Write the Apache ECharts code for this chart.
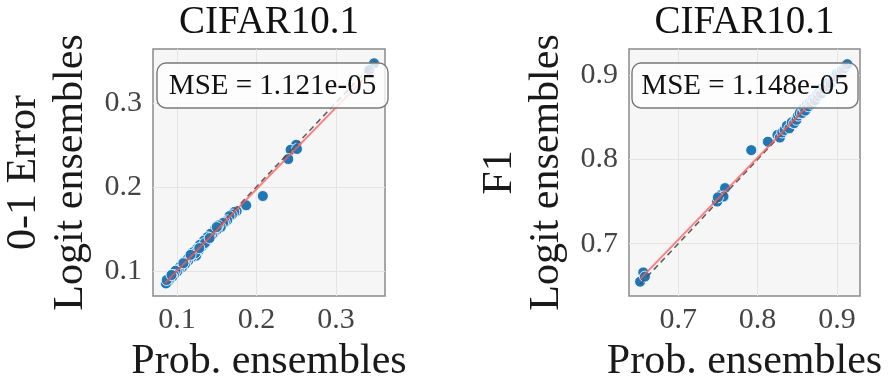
<!DOCTYPE html>
<html>
<head>
<meta charset="utf-8">
<script src="https://cdn.jsdelivr.net/npm/echarts@6/dist/echarts.min.js"></script>
<style>html,body{margin:0;padding:0;background:#fff;}#c{width:891px;height:378px;}</style>
</head>
<body>
<div id="c"></div>
<script>
// ---- data ----
const titles = ['CIFAR10.1', 'CIFAR10.1'];
const yNames = ['0-1 Error\nLogit ensembles', 'F1\nLogit ensembles'];
const xName = 'Prob. ensembles';
const mseTexts = ['MSE = 1.121e-05', 'MSE = 1.148e-05'];
const ticksLeft = [0.1, 0.2, 0.3];
const ticksRight = [0.7, 0.8, 0.9];
const rangeLeftX = [0.0697, 0.3618];
const rangeLeftY = [0.070, 0.364];
const rangeRightX = [0.638, 0.929];
const rangeRightY = [0.638, 0.931];

const pointsLeft = [
  [0.348,0.347],[0.342,0.339],
  [0.250,0.250],[0.243,0.244],[0.251,0.245],[0.240,0.233],
  [0.208,0.189],[0.187,0.178],
  [0.175,0.171],[0.172,0.170],[0.169,0.167],[0.166,0.165],[0.163,0.160],[0.160,0.158],
  [0.158,0.157],[0.155,0.152],[0.152,0.154],[0.150,0.149],[0.148,0.150],[0.146,0.145],
  [0.144,0.143],[0.142,0.144],[0.140,0.138],[0.138,0.140],[0.136,0.134],[0.134,0.136],
  [0.133,0.131],[0.131,0.129],[0.129,0.131],[0.127,0.124],[0.125,0.126],[0.124,0.118],
  [0.122,0.121],[0.120,0.122],[0.118,0.116],[0.116,0.117],[0.114,0.112],[0.112,0.113],
  [0.110,0.108],[0.108,0.110],[0.106,0.104],[0.104,0.105],[0.102,0.101],[0.100,0.099],
  [0.098,0.100],[0.096,0.095],[0.094,0.093],[0.092,0.094],[0.090,0.089],[0.088,0.087],
  [0.086,0.085],[0.087,0.089],[0.135,0.133],[0.150,0.152],[0.123,0.121],[0.108,0.109],
  [0.093,0.095],[0.141,0.139],[0.117,0.119],[0.128,0.127]
];
const regLeft = [[0.085,0.0855],[0.348,0.341]];
const idLeft = [[0.085,0.085],[0.350,0.350]];

const pointsRight = [
  [0.652,0.655],[0.656,0.666],[0.658,0.661],
  [0.749,0.750],[0.754,0.758],[0.759,0.766],[0.757,0.756],[0.750,0.755],
  [0.792,0.811],[0.813,0.821],
  [0.825,0.829],[0.828,0.826],[0.831,0.832],[0.834,0.835],[0.837,0.840],[0.840,0.837],
  [0.843,0.844],[0.846,0.843],[0.849,0.847],[0.851,0.852],[0.853,0.855],[0.856,0.855],
  [0.858,0.861],[0.860,0.858],[0.862,0.865],[0.864,0.863],[0.866,0.868],[0.868,0.866],
  [0.870,0.872],[0.872,0.870],[0.874,0.876],[0.876,0.875],[0.878,0.880],[0.880,0.878],
  [0.882,0.885],[0.884,0.883],[0.886,0.888],[0.888,0.887],[0.890,0.892],[0.892,0.890],
  [0.895,0.896],[0.898,0.898],[0.900,0.902],[0.903,0.902],[0.906,0.906],[0.909,0.908],
  [0.911,0.912],[0.913,0.913]
];
const regRight = [[0.652,0.658],[0.913,0.912]];
const idRight = [[0.652,0.652],[0.913,0.913]];

// ---- chart ----
const FONT = '"Liberation Serif", "DejaVu Serif", serif';
const TXT = '#1a1a1a';
const grids = [
  {left:153, top:49, width:232, height:247},
  {left:629, top:49, width:231, height:247}
];

function xAxisFor(i, range, ticks){
  return {
    type:'value', gridIndex:i, min:range[0], max:range[1],
    name:xName, nameLocation:'middle', nameGap:45, nameMoveOverlap:false,
    nameTextStyle:{fontFamily:FONT, fontSize:42, color:TXT},
    axisLine:{show:false}, 
    axisTick:{show:false, customValues:ticks},
    axisLabel:{customValues:ticks, fontFamily:FONT, fontSize:30, color:'#444', margin:9,
      formatter:v=>v.toFixed(1)},
    splitLine:{show:true, lineStyle:{color:'#e4e4e4', width:1}}
  };
}
function yAxisFor(i, range, ticks, name, gap){
  return {
    type:'value', gridIndex:i, min:range[0], max:range[1],
    name:name, nameLocation:'middle', nameGap:gap, nameRotate:90, nameMoveOverlap:false,
    nameTextStyle:{fontFamily:FONT, fontSize:42, color:TXT, lineHeight:47, align:'center'},
    axisLine:{show:false},
    axisTick:{show:false, customValues:ticks},
    axisLabel:{customValues:ticks, fontFamily:FONT, fontSize:30, color:'#444', margin:11,
      formatter:v=>v.toFixed(1)},
    splitLine:{show:true, lineStyle:{color:'#e4e4e4', width:1}}
  };
}

function scatterSeries(i, pts){
  return {type:'scatter', xAxisIndex:i, yAxisIndex:i, data:pts, symbolSize:11, z:3,
    itemStyle:{color:'#1f77b4', borderColor:'#ffffff', borderWidth:0.8, opacity:1}};
}
function lineSeries(i, pts, color, type, width, z){
  return {type:'line', xAxisIndex:i, yAxisIndex:i, data:pts, symbol:'none', z:z,
    lineStyle:{color:color, type:type, width:width}};
}

const graphic = [];
function addTitleAndBox(g, title, mse, boxX, boxW){
  graphic.push({type:'text', z:100, x:g.left + g.width/2, y:23,
    style:{text:title, font:'39px ' + FONT, fill:'#111', textAlign:'center', textVerticalAlign:'middle'}});
  graphic.push({type:'rect', z:100, shape:{x:boxX, y:63, width:boxW, height:45, r:9},
    style:{fill:'rgba(255,255,255,0.8)', stroke:'#7a7a7a', lineWidth:1.4}});
  graphic.push({type:'text', z:101, x:boxX + boxW/2, y:86,
    style:{text:mse, font:'29px ' + FONT, fill:'#111', textAlign:'center', textVerticalAlign:'middle'}});
}
addTitleAndBox(grids[0], titles[0], mseTexts[0], 157, 231);
addTitleAndBox(grids[1], titles[1], mseTexts[1], 632, 226);

const option = {
  backgroundColor:'#ffffff',
  animation:false,
  grid: grids.map(g => Object.assign({}, g, {show:true, backgroundColor:'#f6f6f6', borderColor:'#8a8a8a', borderWidth:1.5, containLabel:false, outerBoundsMode:'none'})),
  xAxis:[xAxisFor(0, rangeLeftX, ticksLeft), xAxisFor(1, rangeRightX, ticksRight)],
  yAxis:[yAxisFor(0, rangeLeftY, ticksLeft, yNames[0], 59), yAxisFor(1, rangeRightY, ticksRight, yNames[1], 59)],
  series:[
    scatterSeries(0, pointsLeft),
    lineSeries(0, idLeft, 'rgba(80,80,80,0.9)', [6,4], 1.6, 4),
    lineSeries(0, regLeft, 'rgba(255,90,90,0.75)', 'solid', 2, 5),
    scatterSeries(1, pointsRight),
    lineSeries(1, idRight, 'rgba(80,80,80,0.9)', [6,4], 1.6, 4),
    lineSeries(1, regRight, 'rgba(255,90,90,0.75)', 'solid', 2, 5)
  ],
  graphic: graphic
};
const chart = echarts.init(document.getElementById('c'), null, {renderer:'canvas'});
chart.setOption(option);
</script>
</body>
</html>
